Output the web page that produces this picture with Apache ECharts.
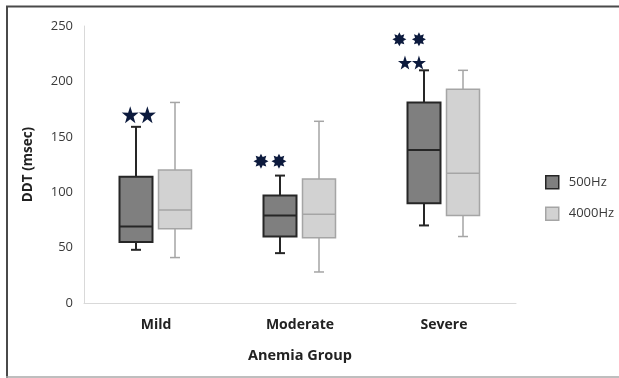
<!DOCTYPE html>
<html>
<head>
<meta charset="utf-8">
<script src="https://cdn.jsdelivr.net/npm/echarts@6/dist/echarts.min.js"></script>
<style>
html,body{margin:0;padding:0;background:#fff;}
#chart{width:619px;height:378px;}
</style>
</head>
<body>
<div id="chart"></div>
<script>
// ---- data ----
const categories = ['Mild', 'Moderate', 'Severe'];
const seriesNames = ['500Hz', '4000Hz'];
// [min, Q1, median, Q3, max]
const hz500 = [[48, 55, 69, 114, 159], [45, 60, 79, 97, 115], [70, 90, 138, 181, 210]];
const hz4000 = [[41, 67, 84, 120, 181], [28, 59, 80, 112, 164], [60, 79, 117, 193, 210]];
const yTicks = [0, 50, 100, 150, 200, 250];
// significance markers, x in category units (0..3), y in msec
const mildStars = [[0.321, 170], [0.440, 170]];
const moderateBursts = [[1.229, 128], [1.354, 128]];
const severeBursts = [[2.190, 238], [2.326, 238]];
const severeStars = [[2.229, 217], [2.326, 217]];

// ---- styles ----
const STAR5 = 'path://M50,0 L61.8,35.1 L98.1,34.5 L69,56.2 L79.4,90.5 L50,70 L20.6,90.5 L31,56.2 L1.9,34.5 L38.2,35.1 Z';
const STAR8 = 'path://M50,0 L61.48,22.28 L85.36,14.64 L77.72,38.52 L100,50 L77.72,61.48 L85.36,85.36 L61.48,77.72 L50,100 L38.52,77.72 L14.64,85.36 L22.28,61.48 L0,50 L22.28,38.52 L14.64,14.64 L38.52,22.28 Z';
const STAR_COLOR = '#0c1a3d';
const BOX_W = 33;
const CAP = 5;
const FONT = '"Open Sans", "Liberation Sans", sans-serif';

function makeRender(offset, fill, stroke, lw) {
  return function (params, api) {
    const c = api.value(0);
    const lo = api.coord([c, api.value(1)]);
    const q1 = api.coord([c, api.value(2)]);
    const md = api.coord([c, api.value(3)]);
    const q3 = api.coord([c, api.value(4)]);
    const hi = api.coord([c, api.value(5)]);
    const cx = Math.round(lo[0] + offset);
    const hw = BOX_W / 2;
    const ls = { stroke: stroke, lineWidth: lw };
    return {
      type: 'group',
      children: [
        { type: 'line', shape: { x1: cx, y1: hi[1], x2: cx, y2: q3[1] }, style: ls },
        { type: 'line', shape: { x1: cx - CAP, y1: hi[1], x2: cx + CAP, y2: hi[1] }, style: ls },
        { type: 'line', shape: { x1: cx, y1: q1[1], x2: cx, y2: lo[1] }, style: ls },
        { type: 'line', shape: { x1: cx - CAP, y1: lo[1], x2: cx + CAP, y2: lo[1] }, style: ls },
        { type: 'rect', shape: { x: cx - hw, y: q3[1], width: BOX_W, height: q1[1] - q3[1] },
          style: { fill: fill, stroke: stroke, lineWidth: lw } },
        { type: 'line', shape: { x1: cx - hw, y1: md[1], x2: cx + hw, y2: md[1] }, style: ls }
      ]
    };
  };
}

const toData = arr => arr.map((v, i) => [i].concat(v));

const chart = echarts.init(document.getElementById('chart'), null, { renderer: 'canvas' });

const option = {
  animation: false,
  backgroundColor: '#ffffff',
  grid: { left: 84, right: 103, top: 26, bottom: 75 },
  legend: {
    orient: 'vertical',
    left: 540,
    top: 170,
    itemWidth: 13,
    itemHeight: 13,
    itemGap: 17,
    icon: 'rect',
    textStyle: { fontFamily: FONT, fontSize: 13, color: '#3a3a3a', padding: [0, 0, 0, 5] },
    data: [
      { name: seriesNames[0], itemStyle: { color: '#7f7f7f', borderColor: '#262626', borderWidth: 1.5 } },
      { name: seriesNames[1], itemStyle: { color: '#d2d2d2', borderColor: '#a5a5a5', borderWidth: 1.5 } }
    ]
  },
  xAxis: [
    {
      type: 'category',
      data: categories,
      boundaryGap: true,
      axisLine: { lineStyle: { color: '#d9d9d9', width: 1 } },
      axisTick: { show: false },
      axisLabel: { fontFamily: FONT, fontSize: 14, fontWeight: 'bold', color: '#222222', margin: 15 },
      name: 'Anemia Group',
      nameLocation: 'middle',
      nameGap: 45,
      nameTextStyle: { fontFamily: FONT, fontSize: 14.5, fontWeight: 'bold', color: '#222222' },
      splitLine: { show: false }
    },
    {
      type: 'value', min: 0, max: 3, show: false
    }
  ],
  yAxis: {
    type: 'value',
    min: yTicks[0],
    max: yTicks[yTicks.length - 1],
    interval: yTicks[1] - yTicks[0],
    axisLine: { show: true, lineStyle: { color: '#d9d9d9', width: 1 } },
    axisTick: { show: false },
    splitLine: { show: false },
    axisLabel: { fontFamily: FONT, fontSize: 13, color: '#3a3a3a', margin: 11 },
    name: 'DDT (msec)',
    nameLocation: 'middle',
    nameGap: 49,
    nameRotate: 90,
    nameTextStyle: { fontFamily: FONT, fontSize: 13.5, fontWeight: 'bold', color: '#222222' }
  },
  graphic: [
    { type: 'line', shape: { x1: 6, y1: 6.5, x2: 619, y2: 6.5 }, style: { stroke: '#4a4a4a', lineWidth: 2 }, silent: true },
    { type: 'line', shape: { x1: 7, y1: 6, x2: 7, y2: 378 }, style: { stroke: '#4a4a4a', lineWidth: 2 }, silent: true },
    { type: 'line', shape: { x1: 6, y1: 377, x2: 619, y2: 377 }, style: { stroke: '#a8a8a8', lineWidth: 1.5 }, silent: true }
  ],
  series: [
    {
      name: seriesNames[0],
      type: 'custom',
      xAxisIndex: 0,
      encode: { x: 0, y: [1, 2, 3, 4, 5] },
      itemStyle: { color: '#7f7f7f' },
      renderItem: makeRender(-20, '#7f7f7f', '#262626', 2),
      data: toData(hz500)
    },
    {
      name: seriesNames[1],
      type: 'custom',
      xAxisIndex: 0,
      encode: { x: 0, y: [1, 2, 3, 4, 5] },
      itemStyle: { color: '#d2d2d2' },
      renderItem: makeRender(18.5, '#d2d2d2', '#a5a5a5', 1.5),
      data: toData(hz4000)
    },
    { type: 'scatter', xAxisIndex: 1, symbol: STAR5, symbolSize: 17, itemStyle: { color: STAR_COLOR, opacity: 1 }, data: mildStars, silent: true },
    { type: 'scatter', xAxisIndex: 1, symbol: STAR8, symbolSize: 15, itemStyle: { color: STAR_COLOR, opacity: 1 }, data: moderateBursts, silent: true },
    { type: 'scatter', xAxisIndex: 1, symbol: STAR8, symbolSize: 14, itemStyle: { color: STAR_COLOR, opacity: 1 }, data: severeBursts, silent: true },
    { type: 'scatter', xAxisIndex: 1, symbol: STAR5, symbolSize: 14, itemStyle: { color: STAR_COLOR, opacity: 1 }, data: severeStars, silent: true }
  ]
};

chart.setOption(option);
</script>
</body>
</html>
